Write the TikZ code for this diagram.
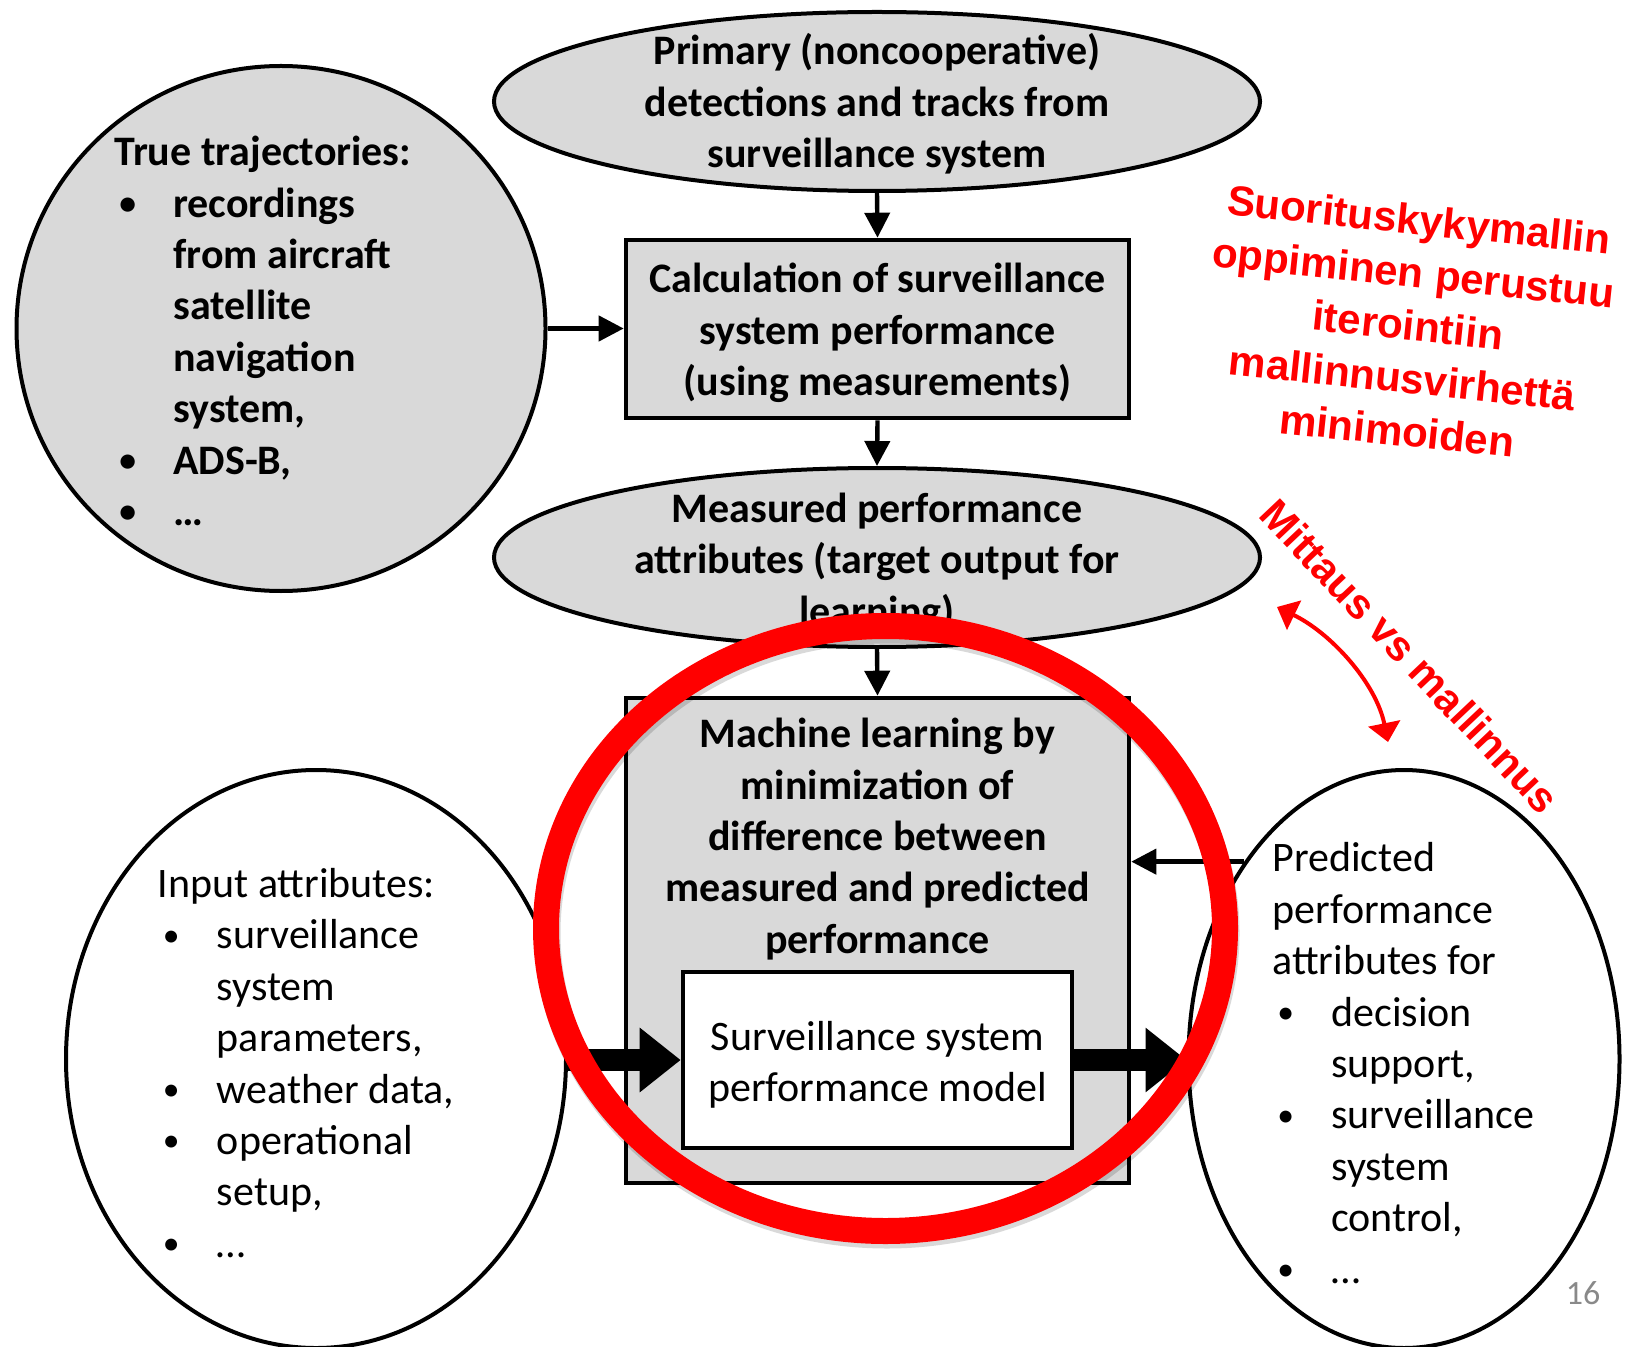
\documentclass[tikz,border=0pt]{standalone}
\usepackage{fontspec}
\setmainfont{Carlito}
\newfontfamily\notefont{Liberation Sans}
\usetikzlibrary{shapes.geometric,arrows.meta}
\definecolor{boxgray}{HTML}{D9D9D9}
\definecolor{notered}{HTML}{FF0000}
\definecolor{pagegray}{HTML}{898989}
\newcommand{\bitem}{\hspace*{2.5pt}\makebox[27pt][l]{\raisebox{1.3pt}{\scalebox{0.8}{•}}}}
\newcommand{\bcont}{\hspace*{29.5pt}}
\begin{document}
\begin{tikzpicture}[x=0.5pt, y=-0.5pt,
  bodytext/.style={font=\fontsize{21}{25.7}\selectfont, inner sep=0pt},
  boldtext/.style={font=\fontsize{21}{25.7}\selectfont\bfseries, inner sep=0pt},
  redtext/.style={font=\notefont\bfseries\fontsize{21}{26.5}\selectfont, text=notered, inner sep=0pt},
  grayoval/.style={ellipse, draw, fill=boxgray, line width=2pt},
  whiteoval/.style={ellipse, draw, fill=white, line width=2pt},
  graybox/.style={draw, fill=boxgray, line width=2.3pt},
  flow/.style={line width=2.2pt, -{Triangle[length=12.5pt, width=12.5pt]}},
  bigflow/.style={line width=11pt, -{Triangle[length=20.5pt, width=31pt]}}]
\useasboundingbox (0,0) rectangle (1625,1347);
\clip (0,0) rectangle (1625,1347);

\node[grayoval, minimum width=383pt, minimum height=89.5pt] (prim) at (877,101.5) {};
\node[graybox, minimum width=251.5pt, minimum height=89pt] (calc) at (877.5,329) {};
\node[grayoval, minimum width=383pt, minimum height=89.5pt] (meas) at (877,557.5) {};
\node[graybox, minimum width=251.5pt, minimum height=242.5pt] (learn) at (877.5,940.5) {};
\node[draw, fill=white, line width=2.3pt, minimum width=194.5pt, minimum height=88pt] (model) at (877.5,1060) {};
\node[grayoval, minimum width=264.5pt, minimum height=262.5pt] (truth) at (281,328.5) {};
\node[whiteoval, minimum width=250pt, minimum height=289pt] (inp) at (316,1059) {};
\node[whiteoval, minimum width=215.5pt, minimum height=289pt] (pred) at (1404,1059) {};

\draw[flow] (prim.south) -- (calc.north);
\draw[flow] (calc.south) -- (meas.north);
\draw[flow] (meas.south) -- (learn.north);
\draw[flow] (truth.east) -- (truth.east -| calc.west);
\draw[flow] (pred.129) -- (pred.129 -| learn.east);
\draw[bigflow] (inp.east |- model.west) -- (model.west);
\draw[bigflow] (model.east) -- (pred.west |- model.east);

\node[boldtext, align=center] (primtxt) at (877,104) {Primary (noncooperative)\\detections and tracks from\\surveillance system};
\node[boldtext, align=center] (calctxt) at (877.5,333) {Calculation of surveillance\\system performance\\(using measurements)};
\node[boldtext, align=center] (meastxt) at (877,562.5) {Measured performance\\attributes (target output for\\learning)};
\node[boldtext, align=center] (learntxt) at (877.5,839) {Machine learning by\\minimization of\\difference between\\measured and predicted\\performance};
\node[bodytext, align=center] (modeltxt) at (877.5,1065) {Surveillance system\\performance model};
\node[boldtext, align=left, anchor=west] (truthtxt) at (114,331) {True trajectories:\\\bitem recordings\\\bcont from aircraft\\\bcont satellite\\\bcont navigation\\\bcont system,\\\bitem ADS-B,\\\bitem …};
\node[bodytext, align=left, anchor=west] (inptxt) at (157.5,1063) {Input attributes:\\\bitem surveillance\\\bcont system\\\bcont parameters,\\\bitem weather data,\\\bitem operational\\\bcont setup,\\\bitem …};
\node[bodytext, align=left, anchor=west] (predtxt) at (1272,1063) {Predicted\\performance\\attributes for\\\bitem decision\\\bcont support,\\\bitem surveillance\\\bcont system\\\bcont control,\\\bitem …};

\node[ellipse, draw=black, draw opacity=0.15, line width=13pt, minimum width=339.5pt, minimum height=302.5pt] (ringshadow) at (887,933) {};
\node[ellipse, draw=notered, line width=13pt, minimum width=339.5pt, minimum height=302.5pt] (ring) at (885.5,928.5) {};

\node[redtext, rotate=-6, align=center] (note1) at (1408,325) {Suorituskykymallin\\oppiminen perustuu\\iterointiin\\mallinnusvirhettä\\minimoiden};
\node[redtext, rotate=-46.6] (note2) at (1410,656) {Mittaus vs mallinnus};
\coordinate (mA) at (1277,607);
\coordinate (mB) at (1388,742);
\draw[notered, line width=2pt, {Triangle[length=9.5pt, width=16pt]}-{Triangle[length=9.5pt, width=16pt]}] (mA) .. controls (1331,633) and (1376,683) .. (mB);

\node[font=\fontsize{17}{20}\selectfont, text=pagegray] (pgno) at (1583,1293) {16};
\end{tikzpicture}
\end{document}
